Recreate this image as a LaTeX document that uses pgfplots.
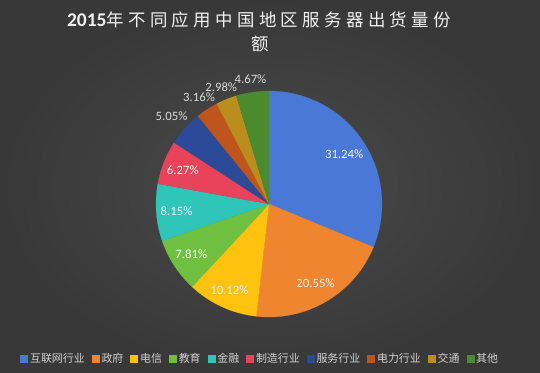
\documentclass[border=0pt]{standalone}
\usepackage{pgfplots}
\pgfplotsset{compat=1.18}
\usepackage{pgfplotstable}
\usepackage{fontspec}
\setmainfont{Carlito}
\newfontfamily\cjk{Noto Sans CJK SC}
\definecolor{bgin}{HTML}{4A4A4A}
\definecolor{bgout}{HTML}{383838}
\definecolor{titlec}{HTML}{F2F2F2}
\definecolor{legtext}{HTML}{D0D0D0}
\definecolor{labin}{HTML}{F4F4F4}
\definecolor{labout}{HTML}{D9D9D9}
\definecolor{c1}{HTML}{4A78D6}
\definecolor{c2}{HTML}{F0852F}
\definecolor{c3}{HTML}{FFC20E}
\definecolor{c4}{HTML}{6FC040}
\definecolor{c5}{HTML}{2FC5B8}
\definecolor{c6}{HTML}{E8435A}
\definecolor{c7}{HTML}{2B4B98}
\definecolor{c8}{HTML}{BE551D}
\definecolor{c9}{HTML}{B98E1E}
\definecolor{c10}{HTML}{4C8A30}

\pgfplotstableread[col sep=comma,row sep=\\]{
name,value,col,pos,lc\\
互联网行业,31.24,c1,0.80,labin\\
政府,20.55,c2,0.81,labin\\
电信,10.12,c3,0.84,labin\\
教育,7.81,c4,0.82,labin\\
金融,8.15,c5,0.82,labin\\
制造行业,6.27,c6,0.82,labin\\
服务行业,5.05,c7,1.16,labout\\
电力行业,3.16,c8,1.13,labout\\
交通,2.98,c9,1.12,labout\\
其他,4.67,c10,1.12,labout\\
}\piedata

\def\pcx{269}
\def\pcy{169}
\def\prad{113}

\begin{document}
\begin{tikzpicture}
\shade[inner color=bgin, outer color=bgout] (0,0) rectangle (540bp,373bp);
\useasboundingbox (0,0) rectangle (540bp,373bp);
\begin{axis}[
  at={(0,0)}, anchor=south west,
  width=540bp, height=373bp, scale only axis,
  xmin=0, xmax=540, ymin=0, ymax=373,
  hide axis, clip=false,
  legend columns=10,
  legend image code/.code={\fill[#1] (0bp,-3.5bp) rectangle (7bp,3.5bp);},
  legend style={draw=none, fill=none, text=legtext,
    at={(260/540,14/373)}, anchor=center,
    font=\fontsize{11}{13}\selectfont\cjk,
    nodes={inner sep=1.5bp},
    /tikz/every even column/.append style={column sep=5.5bp},
    /tikz/every odd column/.append style={column sep=1bp}},
]
\def\cum{0}
\pgfplotsforeachungrouped \i in {0,...,9}{%
  \pgfplotstablegetelem{\i}{value}\of\piedata \let\sval\pgfplotsretval
  \pgfplotstablegetelem{\i}{col}\of\piedata \let\scol\pgfplotsretval
  \pgfplotstablegetelem{\i}{name}\of\piedata \let\sname\pgfplotsretval
  \pgfplotstablegetelem{\i}{pos}\of\piedata \let\spos\pgfplotsretval
  \pgfplotstablegetelem{\i}{lc}\of\piedata \let\slc\pgfplotsretval
  \pgfmathsetmacro\aA{90-3.6*\cum}
  \pgfmathsetmacro\aB{90-3.6*(\cum+\sval)}
  \pgfmathsetmacro\aM{(\aA+\aB)/2}
  \pgfmathsetmacro\lx{\pcx+\prad*\spos*cos(\aM)}
  \pgfmathsetmacro\ly{\pcy+\prad*\spos*sin(\aM)}
  \pgfmathsetmacro\cum{\cum+\sval}
  \edef\doslice{%
    \noexpand\addplot[fill=\scol, draw=\scol, line width=0.2pt, domain=\aB:\aA, samples=60, variable=\noexpand\t]
      ({\pcx+\prad*cos(\noexpand\t)},{\pcy+\prad*sin(\noexpand\t)}) -- (axis cs:\pcx,\pcy) -- cycle;
    \noexpand\addlegendentry{\sname}
    \noexpand\node[text=\slc, font=\noexpand\fontsize{12.8}{14}\noexpand\selectfont] at (axis cs:\lx,\ly) {\sval\noexpand\%};
  }%
  \doslice
}
\node[text=titlec, anchor=center] at (axis cs:259,353)
  {\bfseries\fontsize{19.5}{22}\selectfont 2015\mdseries\cjk\fontsize{17.5}{20}\selectfont\addfontfeature{LetterSpace=25}年不同应用中国地区服务器出货量份};
\node[text=titlec, anchor=center] at (axis cs:260,329)
  {\cjk\fontsize{17.5}{20}\selectfont 额};
\end{axis}
\end{tikzpicture}
\end{document}
